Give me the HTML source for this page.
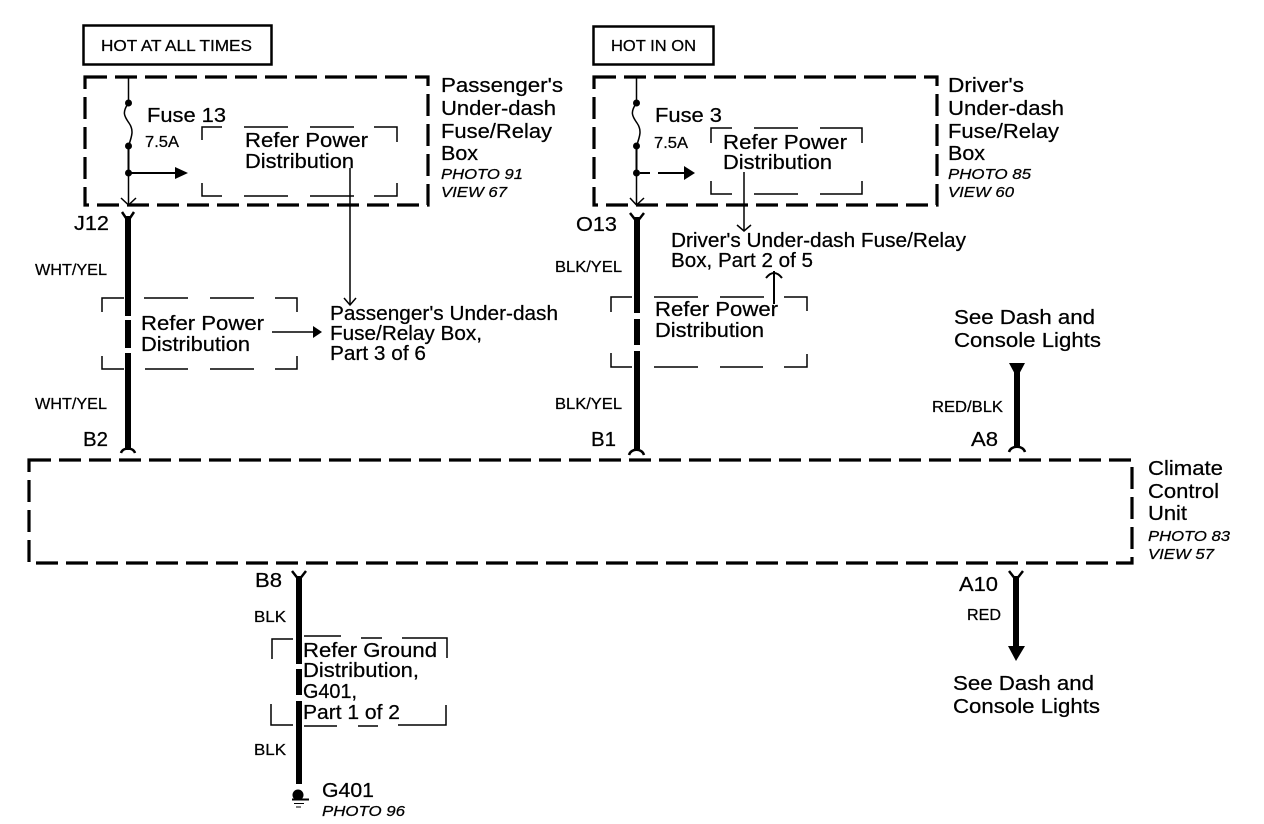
<!DOCTYPE html>
<html>
<head>
<meta charset="utf-8">
<style>
html,body{margin:0;padding:0;background:#fff}
svg{display:block}
text{font-family:"Liberation Sans",sans-serif;fill:#000;stroke:#000;stroke-width:.25}
.l{font-size:20.5px}
.s{font-size:15.5px}
.m{font-size:15.5px}
.i{font-size:15px;font-style:italic}
.d{fill:none;stroke:#000;stroke-width:3.2;stroke-dasharray:22 8}
.t{fill:none;stroke:#000;stroke-width:1.5}
.w{stroke:#000;stroke-width:6;fill:none}
.c{stroke:#000;stroke-width:2.5;fill:none}
</style>
</head>
<body>
<svg width="1264" height="824" viewBox="0 0 1264 824" xmlns="http://www.w3.org/2000/svg">
<rect width="1264" height="824" fill="#fff"/>

<!-- Hot boxes -->
<rect x="83.5" y="25.500" width="188" height="39" fill="none" stroke="#000" stroke-width="2.500"/>
<text class="m" x="101" y="51" textLength="151" lengthAdjust="spacingAndGlyphs">HOT AT ALL TIMES</text>
<rect x="593.500" y="26.500" width="120" height="38" fill="none" stroke="#000" stroke-width="2.500"/>
<text class="m" x="611" y="51" textLength="85" lengthAdjust="spacingAndGlyphs">HOT IN ON</text>

<!-- Fuse boxes -->
<rect x="85" y="77" width="343" height="128" class="d"/>
<rect x="594" y="77" width="343" height="128" class="d"/>
<rect x="29" y="460" width="1103" height="103" class="d"/>

<!-- Left fuse -->
<path d="M128.500 77V103C122 112 124 116 129 123C134 130 132 136 128.500 146V205" class="t"/>
<circle cx="128.500" cy="103" r="3.500"/><circle cx="128.500" cy="146" r="3.500"/><circle cx="128.500" cy="173" r="3.500"/>
<path d="M128.500 146V173H176" stroke="#000" stroke-width="2" fill="none"/>
<path d="M175 167L188 173L175 179Z"/>
<path d="M121 198L128.500 205L136 198" class="t"/>
<text class="l" x="147" y="122" textLength="79" lengthAdjust="spacingAndGlyphs">Fuse 13</text>
<text class="s" x="145" y="147" textLength="34" lengthAdjust="spacingAndGlyphs">7.5A</text>
<path d="M202 140V127H222M244 127H288M310 127H354M374 127H397V142M202 183V196H222M244 196H288M310 196H354M374 196H397V183" class="t"/>
<text class="l" x="245" y="147" textLength="123" lengthAdjust="spacingAndGlyphs">Refer Power</text>
<text class="l" x="245" y="168" textLength="109" lengthAdjust="spacingAndGlyphs">Distribution</text>
<path d="M350 168V305" class="t"/>
<path d="M344 298L350 305L356 298" class="t"/>

<!-- Left labels -->
<text class="l" x="441" y="92" textLength="122" lengthAdjust="spacingAndGlyphs">Passenger's</text>
<text class="l" x="441" y="115" textLength="115" lengthAdjust="spacingAndGlyphs">Under-dash</text>
<text class="l" x="441" y="138" textLength="111" lengthAdjust="spacingAndGlyphs">Fuse/Relay</text>
<text class="l" x="441" y="160" textLength="37" lengthAdjust="spacingAndGlyphs">Box</text>
<text class="i" x="441" y="179" textLength="82" lengthAdjust="spacingAndGlyphs">PHOTO 91</text>
<text class="i" x="441" y="197" textLength="66" lengthAdjust="spacingAndGlyphs">VIEW 67</text>

<!-- J12 wire -->
<text class="l" x="74" y="230" textLength="35" lengthAdjust="spacingAndGlyphs">J12</text>
<path d="M128 216V316M128 320V348M128 353V450" class="w"/>
<path d="M122 212L128 221L134 212" class="c"/>
<path d="M121 453C123 447 133 447 135 453" class="c"/>
<text class="s" x="35" y="275" textLength="72" lengthAdjust="spacingAndGlyphs">WHT/YEL</text>
<text class="s" x="35" y="409" textLength="72" lengthAdjust="spacingAndGlyphs">WHT/YEL</text>
<text class="l" x="83" y="446" textLength="25" lengthAdjust="spacingAndGlyphs">B2</text>
<path d="M102 312V298H124M144 298H188M210 298H254M275 298H297V312M102 356V369H124M145 369H188M210 369H254M275 369H297V356" class="t"/>
<text class="l" x="141" y="330" textLength="123" lengthAdjust="spacingAndGlyphs">Refer Power</text>
<text class="l" x="141" y="351" textLength="109" lengthAdjust="spacingAndGlyphs">Distribution</text>
<path d="M272 332H316" class="t"/>
<path d="M313 326L322 332L313 338Z"/>
<text class="l" x="330" y="320" textLength="228" lengthAdjust="spacingAndGlyphs">Passenger's Under-dash</text>
<text class="l" x="330" y="340" textLength="152" lengthAdjust="spacingAndGlyphs">Fuse/Relay Box,</text>
<text class="l" x="330" y="360" textLength="96" lengthAdjust="spacingAndGlyphs">Part 3 of 6</text>

<!-- Right fuse -->
<path d="M636.500 77V103C630 112 632 116 637 123C642 130 640 136 636.500 146V205" class="t"/>
<circle cx="636.500" cy="103" r="3.500"/><circle cx="636.500" cy="146" r="3.500"/><circle cx="636.500" cy="173" r="3.500"/>
<path d="M636.500 146V173" stroke="#000" stroke-width="2" fill="none"/>
<path d="M640 173H650M658 173H684" stroke="#000" stroke-width="2" fill="none"/>
<path d="M684 166L695 173L684 180Z"/>
<path d="M630 198L636.500 205L644 198" class="t"/>
<text class="l" x="655" y="122" textLength="67" lengthAdjust="spacingAndGlyphs">Fuse 3</text>
<text class="s" x="654" y="148" textLength="34" lengthAdjust="spacingAndGlyphs">7.5A</text>
<path d="M711 143V128H732M754 128H798M820 128H862V143M711 181V194H732M754 194H798M820 194H862V181" class="t"/>
<text class="l" x="723" y="149" textLength="124" lengthAdjust="spacingAndGlyphs">Refer Power</text>
<text class="l" x="723" y="169" textLength="109" lengthAdjust="spacingAndGlyphs">Distribution</text>
<path d="M744 172V231" class="t"/>
<path d="M737 225L744 231L751 225" class="t"/>

<text class="l" x="948" y="92" textLength="76" lengthAdjust="spacingAndGlyphs">Driver's</text>
<text class="l" x="948" y="115" textLength="116" lengthAdjust="spacingAndGlyphs">Under-dash</text>
<text class="l" x="948" y="138" textLength="111" lengthAdjust="spacingAndGlyphs">Fuse/Relay</text>
<text class="l" x="948" y="160" textLength="37" lengthAdjust="spacingAndGlyphs">Box</text>
<text class="i" x="948" y="179" textLength="83" lengthAdjust="spacingAndGlyphs">PHOTO 85</text>
<text class="i" x="948" y="197" textLength="66" lengthAdjust="spacingAndGlyphs">VIEW 60</text>

<!-- O13 wire -->
<text class="l" x="576" y="231" textLength="41" lengthAdjust="spacingAndGlyphs">O13</text>
<path d="M637 217V313M637 319V345M637 351V449" class="w"/>
<path d="M630 213L637 222L644 213" class="c"/>
<path d="M629 455C631 448 642 448 644 455" class="c"/>
<text class="s" x="555" y="272" textLength="67" lengthAdjust="spacingAndGlyphs">BLK/YEL</text>
<text class="s" x="555" y="409" textLength="67" lengthAdjust="spacingAndGlyphs">BLK/YEL</text>
<text class="l" x="591" y="446" textLength="25" lengthAdjust="spacingAndGlyphs">B1</text>
<text class="l" x="671" y="247" textLength="295" lengthAdjust="spacingAndGlyphs">Driver's Under-dash Fuse/Relay</text>
<text class="l" x="671" y="267" textLength="142" lengthAdjust="spacingAndGlyphs">Box, Part 2 of 5</text>
<path d="M611 312V297H632M654 297H698M720 297H764M784 297H807V311M611 353V367H632M654 367H698M720 367H763M784 367H807V354" class="t"/>
<text class="l" x="655" y="316" textLength="123" lengthAdjust="spacingAndGlyphs">Refer Power</text>
<text class="l" x="655" y="337" textLength="109" lengthAdjust="spacingAndGlyphs">Distribution</text>
<path d="M774 304V271" stroke="#000" stroke-width="2" fill="none"/>
<path d="M766 278Q774 268 782 278" stroke="#000" stroke-width="2" fill="none"/>

<!-- A8 -->
<text class="l" x="954" y="324" textLength="141" lengthAdjust="spacingAndGlyphs">See Dash and</text>
<text class="l" x="954" y="347" textLength="147" lengthAdjust="spacingAndGlyphs">Console Lights</text>
<path d="M1009 363H1025L1017 378Z"/>
<path d="M1017 372V448" class="w"/>
<path d="M1009 452C1011 445 1023 445 1025 452" class="c"/>
<text class="s" x="932" y="412" textLength="71" lengthAdjust="spacingAndGlyphs">RED/BLK</text>
<text class="l" x="971" y="446" textLength="27" lengthAdjust="spacingAndGlyphs">A8</text>

<!-- Climate labels -->
<text class="l" x="1148" y="475" textLength="75" lengthAdjust="spacingAndGlyphs">Climate</text>
<text class="l" x="1148" y="498" textLength="71" lengthAdjust="spacingAndGlyphs">Control</text>
<text class="l" x="1148" y="520" textLength="39" lengthAdjust="spacingAndGlyphs">Unit</text>
<text class="i" x="1148" y="541" textLength="82" lengthAdjust="spacingAndGlyphs">PHOTO 83</text>
<text class="i" x="1148" y="559" textLength="66" lengthAdjust="spacingAndGlyphs">VIEW 57</text>

<!-- A10 -->
<path d="M1009 571L1016 580L1023 571" class="c"/>
<path d="M1016 576V648" class="w"/>
<path d="M1008 646H1025L1016 661Z"/>
<text class="l" x="959" y="591" textLength="39" lengthAdjust="spacingAndGlyphs">A10</text>
<text class="s" x="967" y="620" textLength="34" lengthAdjust="spacingAndGlyphs">RED</text>
<text class="l" x="953" y="690" textLength="141" lengthAdjust="spacingAndGlyphs">See Dash and</text>
<text class="l" x="953" y="713" textLength="147" lengthAdjust="spacingAndGlyphs">Console Lights</text>

<!-- B8 -->
<text class="l" x="255" y="587" textLength="27" lengthAdjust="spacingAndGlyphs">B8</text>
<path d="M292 571L299 580L306 571" class="c"/>
<path d="M299 576V664M299 669V695M299 701V784" class="w"/>
<text class="s" x="254" y="622" textLength="32" lengthAdjust="spacingAndGlyphs">BLK</text>
<text class="s" x="254" y="755" textLength="32" lengthAdjust="spacingAndGlyphs">BLK</text>
<path d="M272 659V639H293M304 636H341M361 638H382M402 638H447V658M271 704V725H293M304 726H337M358 726H378M398 725H446V705" class="t"/>
<text class="l" x="303" y="657" textLength="134" lengthAdjust="spacingAndGlyphs">Refer Ground</text>
<text class="l" x="303" y="677" textLength="116" lengthAdjust="spacingAndGlyphs">Distribution,</text>
<text class="l" x="303" y="698" textLength="54" lengthAdjust="spacingAndGlyphs">G401,</text>
<text class="l" x="303" y="719" textLength="97" lengthAdjust="spacingAndGlyphs">Part 1 of 2</text>

<!-- Ground -->
<circle cx="298" cy="795" r="5.500"/>
<path d="M292 799.500H309" stroke="#000" stroke-width="2"/>
<path d="M294 803.500H304M296 807H301" stroke="#000" stroke-width="1"/>
<text class="l" x="322" y="797" textLength="52" lengthAdjust="spacingAndGlyphs">G401</text>
<text class="i" x="322" y="816" textLength="83" lengthAdjust="spacingAndGlyphs">PHOTO 96</text>
</svg>
</body>
</html>
